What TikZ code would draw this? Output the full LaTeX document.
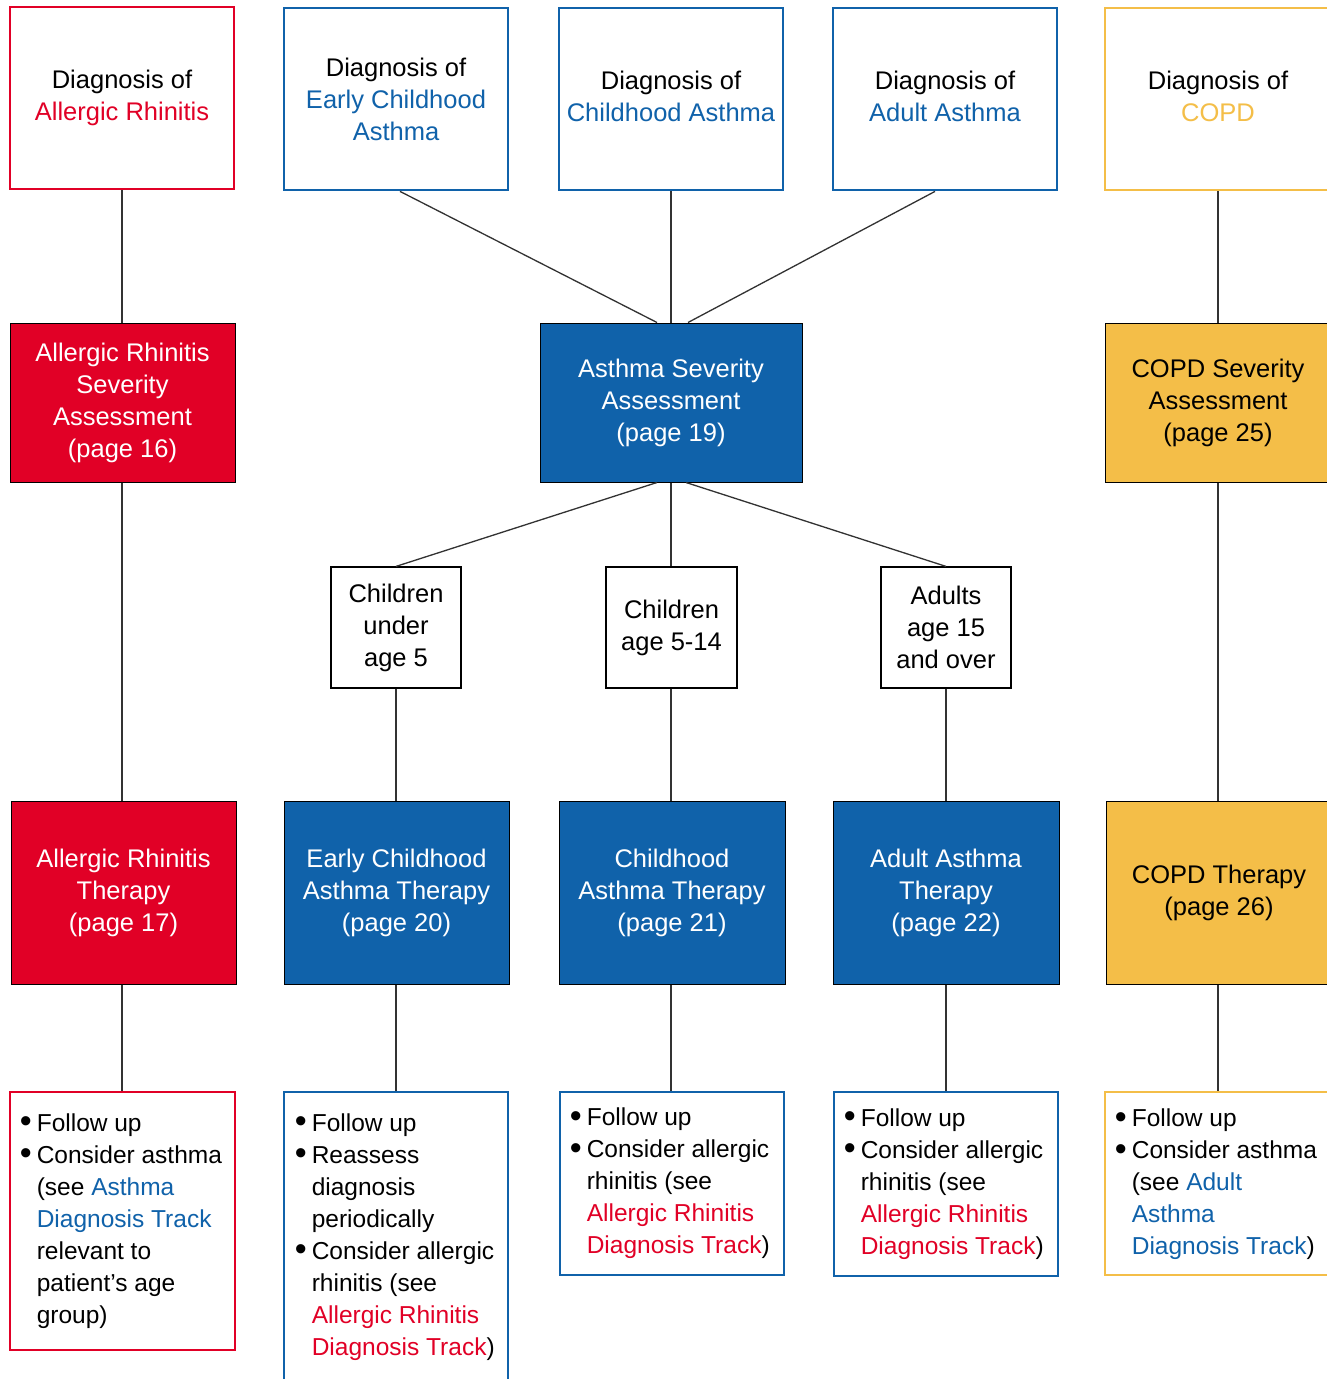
\documentclass[tikz,border=0pt]{standalone}
\usepackage{fontspec}
\setmainfont{Liberation Sans}
\definecolor{arred}{RGB}{225,0,38}
\definecolor{asblue}{RGB}{16,98,170}
\definecolor{cpyel}{RGB}{244,190,72}
\definecolor{lnk}{RGB}{50,50,50}
\newcommand{\bl}{\makebox[17pt][l]{\raisebox{-1.5pt}{\fontsize{34}{32}\selectfont •}}}
\newcommand{\ind}{\hspace*{17pt}}
\begin{document}
\begin{tikzpicture}[x=1pt,y=-1pt,
  box/.style={draw, inner sep=0pt, align=center, font=\fontsize{25.5}{32}\selectfont},
  diagbox/.style={box, line width=2.8pt, draw=#1, fill=white},
  fillbox/.style={box, line width=1pt, draw=black, fill=#1},
  agebox/.style={box, line width=1.2pt, draw=black, fill=white},
  fbox/.style={draw=#1, line width=2.8pt, inner sep=0pt, fill=white},
  ftext/.style={anchor=west, inner sep=0pt, align=left, font=\fontsize{24.5}{32}\selectfont},
  conn/.style={draw=lnk, line width=1.3pt}]
\clip (0,0) rectangle (1327,1379);
\fill[white] (0,0) rectangle (1327,1379);
% row 1
\node[diagbox=arred, minimum width=224pt, minimum height=182pt] (d1) at (122,98) {Diagnosis of\\\textcolor{arred}{Allergic Rhinitis}};
\node[diagbox=asblue, minimum width=224pt, minimum height=182pt] (d2) at (396,99) {Diagnosis of\\\textcolor{asblue}{Early Childhood}\\\textcolor{asblue}{Asthma}};
\node[diagbox=asblue, minimum width=224pt, minimum height=182pt] (d3) at (671,99) {\strut Diagnosis of\\\textcolor{asblue}{Childhood Asthma}\strut};
\node[diagbox=asblue, minimum width=224pt, minimum height=182pt] (d4) at (945,99) {\strut Diagnosis of\\\textcolor{asblue}{Adult Asthma}\strut};
\node[diagbox=cpyel, minimum width=226pt, minimum height=182pt] (d5) at (1218,99) {\strut Diagnosis of\\\textcolor{cpyel}{COPD}\strut};
% row 2
\node[fillbox=arred, text=white, minimum width=225pt, minimum height=159pt] (s1) at (122.5,402.5) {Allergic Rhinitis\\Severity\\Assessment\\(page 16)};
\node[fillbox=asblue, text=white, minimum width=262pt, minimum height=159pt] (s2) at (671,402.5) {Asthma Severity\\Assessment\\(page 19)};
\node[fillbox=cpyel, text=black, minimum width=226pt, minimum height=159pt] (s3) at (1218,402.5) {COPD Severity\\Assessment\\(page 25)};
% row 3
\node[agebox, minimum width=130pt, minimum height=121pt] (c1) at (396,627.5) {Children\\under\\age 5};
\node[agebox, minimum width=131pt, minimum height=121pt] (c2) at (671.5,627.5) {Children\\age 5-14};
\node[agebox, minimum width=130pt, minimum height=121pt] (c3) at (946,627.5) {Adults\\age 15\\and over};
% row 4
\node[fillbox=arred, text=white, minimum width=225pt, minimum height=183pt] (t1) at (123.5,892.5) {Allergic Rhinitis\\Therapy\\(page 17)};
\node[fillbox=asblue, text=white, minimum width=225pt, minimum height=183pt] (t2) at (396.5,892.5) {Early Childhood\\Asthma Therapy\\(page 20)};
\node[fillbox=asblue, text=white, minimum width=226pt, minimum height=183pt] (t3) at (672,892.5) {Childhood\\Asthma Therapy\\(page 21)};
\node[fillbox=asblue, text=white, minimum width=226pt, minimum height=183pt] (t4) at (946,892.5) {Adult Asthma\\Therapy\\(page 22)};
\node[fillbox=cpyel, text=black, minimum width=226pt, minimum height=183pt] (t5) at (1219,892.5) {COPD Therapy\\(page 26)};
% row 5
\node[fbox=arred, minimum width=225pt, minimum height=258pt] (f1) at (122.5,1221) {};
\node[fbox=asblue, minimum width=224pt, minimum height=290pt] (f2) at (396,1237) {};
\node[fbox=asblue, minimum width=224pt, minimum height=183pt] (f3) at (672,1183.5) {};
\node[fbox=asblue, minimum width=224pt, minimum height=184pt] (f4) at (946,1184) {};
\node[fbox=cpyel, minimum width=226pt, minimum height=183pt] (f5) at (1218,1183.5) {};
\node[ftext] (g1) at ([xshift=11pt]f1.west) {\bl Follow up\\\bl Consider asthma\\\ind(see \textcolor{asblue}{Asthma}\\\ind\textcolor{asblue}{Diagnosis Track}\\\ind relevant to\\\ind patient’s age\\\ind group)};
\node[ftext] (g2) at ([xshift=12pt]f2.west) {\bl Follow up\\\bl Reassess\\\ind diagnosis\\\ind periodically\\\bl Consider allergic\\\ind rhinitis (see\\\ind\textcolor{arred}{Allergic Rhinitis}\\\ind\textcolor{arred}{Diagnosis Track})};
\node[ftext] (g3) at ([xshift=11pt]f3.west) {\bl Follow up\\\bl Consider allergic\\\ind rhinitis (see\\\ind\textcolor{arred}{Allergic Rhinitis}\\\ind\textcolor{arred}{Diagnosis Track})};
\node[ftext] (g4) at ([xshift=11pt]f4.west) {\bl Follow up\\\bl Consider allergic\\\ind rhinitis (see\\\ind\textcolor{arred}{Allergic Rhinitis}\\\ind\textcolor{arred}{Diagnosis Track})};
\node[ftext] (g5) at ([xshift=11pt,yshift=-1pt]f5.west) {\bl Follow up\\\bl Consider asthma\\\ind(see \textcolor{asblue}{Adult}\\\ind\textcolor{asblue}{Asthma}\\\ind\textcolor{asblue}{Diagnosis Track})};
% connectors
\path[conn] (d1.south) -- (s1.north -| d1.south);
\path[conn] (s1.south -| d1.south) -- (t1.north -| d1.south);
\path[conn] (t1.south -| d1.south) -- (f1.north -| d1.south);
\path[conn] ([xshift=4pt]d2.south) -- ([xshift=-14pt]s2.north);
\path[conn] (d3.south) -- (s2.north);
\path[conn] ([xshift=-10pt]d4.south) -- ([xshift=17pt]s2.north);
\path[conn] ([xshift=-14pt]s2.south) -- (c1.north);
\path[conn] (s2.south) -- (c2.north -| s2.south);
\path[conn] ([xshift=15pt]s2.south) -- (c3.north);
\path[conn] (c1.south) -- (t2.north -| c1.south);
\path[conn] (c2.south -| s2.south) -- (t3.north -| s2.south);
\path[conn] (c3.south) -- (t4.north -| c3.south);
\path[conn] (t2.south -| c1.south) -- (f2.north -| c1.south);
\path[conn] (t3.south -| s2.south) -- (f3.north -| s2.south);
\path[conn] (t4.south -| c3.south) -- (f4.north -| c3.south);
\path[conn] (d5.south) -- (s3.north -| d5.south);
\path[conn] (s3.south -| d5.south) -- (t5.north -| d5.south);
\path[conn] (t5.south -| d5.south) -- (f5.north -| d5.south);
\end{tikzpicture}
\end{document}
